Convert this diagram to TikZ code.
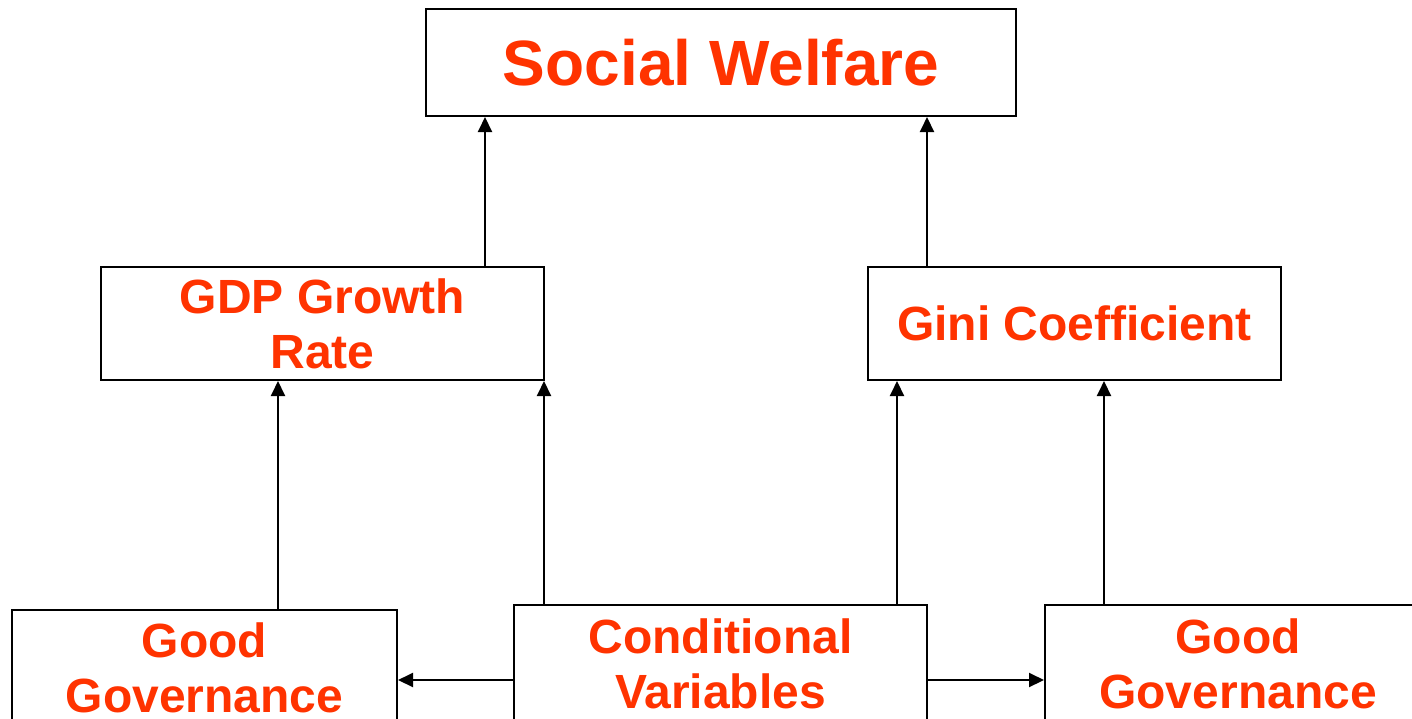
\documentclass[tikz,border=0pt]{standalone}
\usepackage{fontspec}
\setmainfont{Liberation Sans}
\usetikzlibrary{arrows.meta}
\definecolor{labelred}{RGB}{255,51,0}
\begin{document}
\begin{tikzpicture}[x=1pt,y=-1pt,
  box/.style={draw=black,line width=2pt,fill=white,inner sep=0pt,
    text=labelred,align=center,font={\bfseries\fontsize{48}{55}\selectfont}},
  arr/.style={line width=2pt,-{Triangle[length=15pt,width=14pt]}}]
\useasboundingbox (0,0) rectangle (1412,718);
\clip (0,0) rectangle (1412,718);

% boxes
\node[box,minimum width=590pt,minimum height=107pt,
  font={\bfseries\fontsize{64}{70}\selectfont}] (sw) at (721,62.5) {Social Welfare};
\node[box,minimum width=443pt,minimum height=113pt] (gdp) at (322.5,323.5) {GDP Growth\\Rate};
\node[box,minimum width=413pt,minimum height=113pt] (gini) at (1074.5,323.5) {Gini Coefficient};
\node[box,minimum width=385pt,minimum height=116pt] (ggl) at (204.5,668) {Good\\Governance};
\node[box,minimum width=413pt,minimum height=117pt] (cv) at (720.5,663.5) {Conditional\\Variables};
\node[box,minimum width=386pt,minimum height=117pt] (ggr) at (1238,663.5) {Good\\Governance};

% arrow start points on the box edges
\coordinate (a1) at ([xshift=162.5pt]gdp.north);
\coordinate (a2) at ([xshift=-147.5pt]gini.north);
\coordinate (a3) at ([xshift=73.5pt]ggl.north);
\coordinate (a4) at ([xshift=-176.5pt]cv.north);
\coordinate (a5) at ([xshift=176.5pt]cv.north);
\coordinate (a6) at ([xshift=-134pt]ggr.north);
\coordinate (h) at ([yshift=-16.5pt]cv.center);

% connectors
\draw[arr] (a1) -- (a1 |- sw.south);
\draw[arr] (a2) -- (a2 |- sw.south);
\draw[arr] (a3) -- (a3 |- gdp.south);
\draw[arr] (a4) -- (a4 |- gdp.south);
\draw[arr] (a5) -- (a5 |- gini.south);
\draw[arr] (a6) -- (a6 |- gini.south);
\draw[arr] (h -| cv.west) -- (h -| ggl.east);
\draw[arr] (h -| cv.east) -- (h -| ggr.west);
\end{tikzpicture}
\end{document}
